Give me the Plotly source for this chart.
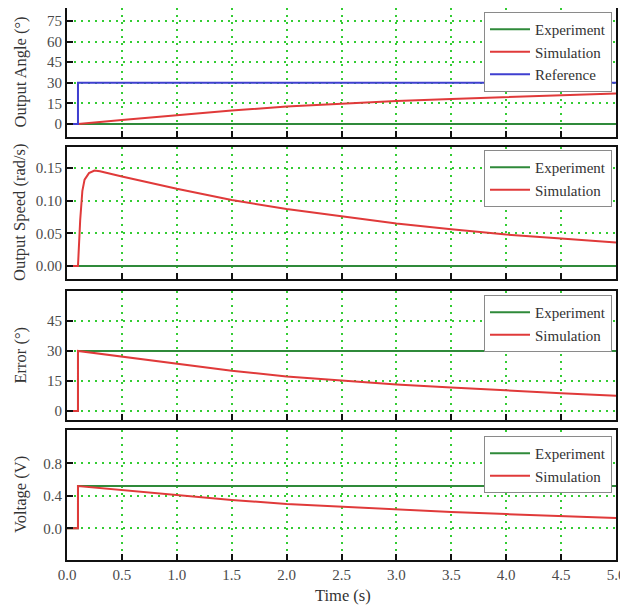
import plotly.graph_objects as go

# ---------------- data ----------------
# Panel 1: output angle (deg)
t_exp = [0.0, 5.0]
exp_angle = [0.0, 0.0]
t_ref = [0.0, 0.1, 0.1, 5.0]
ref_angle = [0.0, 0.0, 30.0, 30.0]
t_sim = [0.0, 0.1, 0.5, 1.0, 1.5, 2.0, 2.5, 3.0, 3.5, 4.0, 4.5, 5.0]
sim_angle = [0.0, 0.0, 2.9, 6.5, 9.9, 12.7, 14.8, 16.7, 18.3, 19.8, 21.1, 22.3]

# Panel 2: output speed (rad/s)
exp_speed = [0.0, 0.0]
t_speed = [0.0, 0.1, 0.12, 0.14, 0.16, 0.2, 0.25, 0.3, 0.5, 0.75, 1.0, 1.5,
           2.0, 2.5, 3.0, 3.5, 4.0, 4.5, 5.0]
sim_speed = [0.0, 0.0, 0.07, 0.115, 0.132, 0.142, 0.146, 0.145, 0.137, 0.127,
             0.118, 0.101, 0.087, 0.076, 0.065, 0.056, 0.048, 0.042, 0.036]

# Panel 3: error (deg)
t_step = [0.0, 0.1, 0.1, 5.0]
exp_error = [0.0, 0.0, 30.0, 30.0]
t_sim_step = [0.0, 0.1, 0.1, 0.5, 1.0, 1.5, 2.0, 2.5, 3.0, 3.5, 4.0, 4.5, 5.0]
sim_error = [0.0, 0.0, 30.0, 27.1, 23.5, 20.1, 17.3, 15.2, 13.3, 11.7, 10.2, 8.9, 7.6]

# Panel 4: voltage (V)
exp_voltage = [0.0, 0.0, 0.52, 0.52]
sim_voltage = [0.0, 0.0, 0.52, 0.47, 0.41, 0.35, 0.30, 0.265, 0.23, 0.20, 0.175, 0.15, 0.128]

x_ticks = [0.0, 0.5, 1.0, 1.5, 2.0, 2.5, 3.0, 3.5, 4.0, 4.5, 5.0]
x_ticklabels = ["0.0", "0.5", "1.0", "1.5", "2.0", "2.5", "3.0", "3.5", "4.0", "4.5", "5.0"]
y1_ticks = [0, 15, 30, 45, 60, 75]
y2_ticks = [0.0, 0.05, 0.10, 0.15]
y2_ticklabels = ["0.00", "0.05", "0.10", "0.15"]
y3_ticks = [0, 15, 30, 45]
y4_ticks = [0.0, 0.4, 0.8]
y4_ticklabels = ["0.0", "0.4", "0.8"]

y_titles = ["Output Angle (°)", "Output Speed (rad/s)", "Error (°)", "Voltage (V)"]
x_title = "Time (s)"

# ---------------- style ----------------
OFF = 8  # page body margin
W, H = 628 - OFF, 605 - OFF
GREEN = "#2f8a3a"
RED = "#e03a3a"
BLUE = "#3f3fd0"
GRID = "#33cc33"
FONT = "Liberation Serif"

px_x = lambda v: (v - OFF) / W
px_y = lambda v: 1 - (v - OFF) / H

x_dom = [px_x(67), px_x(616)]
panels = [(8, 137), (147, 279), (291, 420), (430, 560)]
y_doms = [[px_y(b), px_y(t)] for (t, b) in panels]
y_ranges = [[-9.4, 84.4], [-0.02, 0.182], [-4.5, 60], [-0.39, 1.21]]

fig = go.Figure()

def add(x, y, name, color, idx, legend):
    fig.add_trace(go.Scatter(
        x=x, y=y, mode="lines", name=name,
        line=dict(color=color, width=2),
        xaxis="x" if idx == 1 else f"x{idx}",
        yaxis="y" if idx == 1 else f"y{idx}",
        legend=legend,
    ))

add(t_exp, exp_angle, "Experiment", GREEN, 1, "legend")
add(t_sim, sim_angle, "Simulation", RED, 1, "legend")
add(t_ref, ref_angle, "Reference", BLUE, 1, "legend")

add(t_exp, exp_speed, "Experiment", GREEN, 2, "legend2")
add(t_speed, sim_speed, "Simulation", RED, 2, "legend2")

add(t_step, exp_error, "Experiment", GREEN, 3, "legend3")
add(t_sim_step, sim_error, "Simulation", RED, 3, "legend3")

add(t_step, exp_voltage, "Experiment", GREEN, 4, "legend4")
add(t_sim_step, sim_voltage, "Simulation", RED, 4, "legend4")

tickfont = dict(family=FONT, size=15, color="#4a4a4a")

layout = dict(
    width=W, height=H,
    margin=dict(l=0, r=0, t=0, b=0),
    paper_bgcolor="white", plot_bgcolor="white",
    font=dict(family=FONT, size=15, color="#333333"),
)

y_tickvals = [y1_ticks, y2_ticks, y3_ticks, y4_ticks]
y_ticktext = [[str(v) for v in y1_ticks], y2_ticklabels, [str(v) for v in y3_ticks], y4_ticklabels]

for i in range(4):
    xs = "xaxis" if i == 0 else f"xaxis{i+1}"
    ys = "yaxis" if i == 0 else f"yaxis{i+1}"
    anchor_y = "y" if i == 0 else f"y{i+1}"
    anchor_x = "x" if i == 0 else f"x{i+1}"
    layout[xs] = dict(
        domain=x_dom, anchor=anchor_y, range=[0, 5],
        tickvals=x_ticks, ticktext=x_ticklabels,
        showticklabels=(i == 3), tickfont=tickfont,
        ticks="inside", ticklen=6, tickwidth=2, tickcolor="#111111",
        showline=True, linecolor="#111111", linewidth=2, mirror=True,
        showgrid=True, gridcolor=GRID, gridwidth=1.5, griddash="2px,5px",
        zeroline=False, automargin=False,
    )
    layout[ys] = dict(
        domain=y_doms[i], anchor=anchor_x, range=y_ranges[i],
        tickvals=y_tickvals[i], ticktext=y_ticktext[i], tickfont=tickfont,
        ticks="inside", ticklen=6, tickwidth=2, tickcolor="#111111",
        showline=True, linecolor="#111111", linewidth=2, mirror=True,
        showgrid=True, gridcolor=GRID, gridwidth=1.5, griddash="2px,5px",
        zeroline=False, automargin=False,
    )

legend_tops = [12, 150, 295, 436]
for i, top in enumerate(legend_tops):
    key = "legend" if i == 0 else f"legend{i+1}"
    layout[key] = dict(
        x=px_x(612), xanchor="right", y=px_y(top), yanchor="top",
        bgcolor="white", bordercolor="#8a8a8a", borderwidth=1,
        font=dict(family=FONT, size=15, color="#333333"),
        tracegroupgap=0, itemwidth=40,
    )

annotations = []
for i, (t, b) in enumerate(panels):
    annotations.append(dict(
        text=y_titles[i], x=px_x(20), y=px_y((t + b) / 2),
        xref="paper", yref="paper", xanchor="center", yanchor="middle",
        textangle=-90, showarrow=False,
        font=dict(family=FONT, size=16.5, color="#333333"),
    ))
annotations.append(dict(
    text=x_title, x=px_x(343), y=px_y(595), xref="paper", yref="paper",
    xanchor="center", yanchor="middle", showarrow=False,
    font=dict(family=FONT, size=16.5, color="#333333"),
))
layout["annotations"] = annotations

fig.update_layout(**layout)
fig.write_html("out.html")
